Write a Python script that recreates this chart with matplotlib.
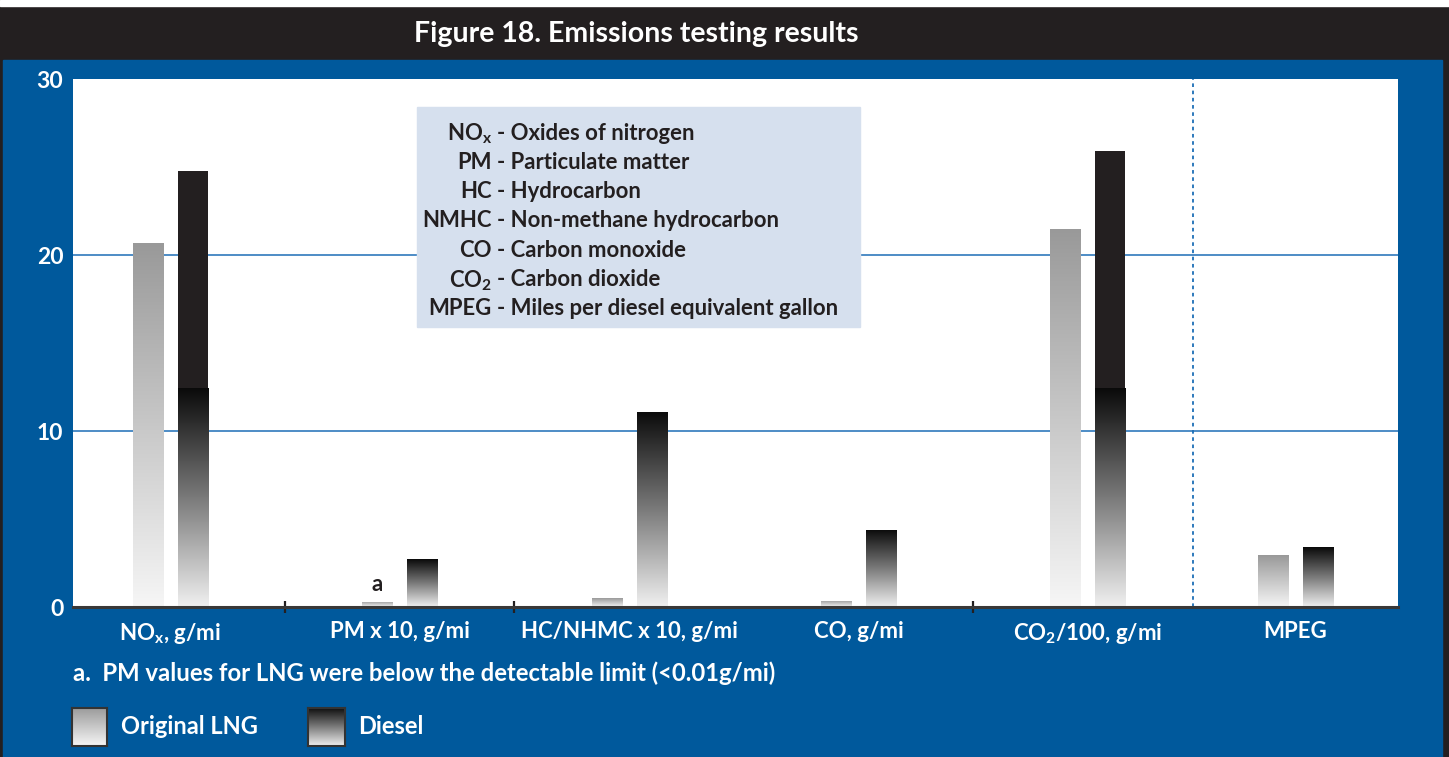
import numpy as np
import matplotlib
matplotlib.use("Agg")
import matplotlib.pyplot as plt
from matplotlib.patches import Rectangle
from matplotlib.colors import LinearSegmentedColormap

# values
categories = ["NO$_\\mathbf{x}$, g/mi", "PM x 10, g/mi", "HC/NHMC x 10, g/mi",
              "CO, g/mi", "CO$_\\mathbf{2}$/100, g/mi", "MPEG"]
lng = [20.7, 0.3, 0.5, 0.35, 21.5, 2.95]
diesel = [24.8, 2.7, 11.1, 4.4, 25.9, 3.4]
yticks = [0, 10, 20, 30]
series_names = ["Original LNG", "Diesel"]
gloss_abbr = ["NO$_\\mathbf{x}$", "PM", "HC", "NMHC", "CO", "CO$_\\mathbf{2}$", "MPEG"]
gloss_desc = ["Oxides of nitrogen", "Particulate matter", "Hydrocarbon",
              "Non-methane hydrocarbon", "Carbon monoxide", "Carbon dioxide",
              "Miles per diesel equivalent gallon"]
title = "Figure 18. Emissions testing results"
footnote = "a.  PM values for LNG were below the detectable limit (<0.01g/mi)"

W, H = 1449, 757
BLUE = "#00599c"
DARK = "#231f20"
GRID = "#1c6eb6"
BOX = "#d6e0ee"

plt.rcParams['font.family'] = ['Lato', 'DejaVu Sans']
plt.rcParams['font.weight'] = 'bold'
plt.rcParams['mathtext.fontset'] = 'custom'
plt.rcParams['mathtext.bf'] = 'Lato:bold'
plt.rcParams['mathtext.rm'] = 'Lato:bold'
plt.rcParams['mathtext.it'] = 'Lato:bold'

lng_cmap = LinearSegmentedColormap.from_list("lng", ["#f6f6f6", "#999999"])
dsl_cmap = LinearSegmentedColormap.from_list("dsl", ["#f0f0f0", "#7a7a7a", "#0a0a0a"])
grad = np.linspace(0, 1, 256).reshape(-1, 1)
split = 12.4  # diesel bars turn solid above this level


def px(x0, y0, x1, y1):
    return [x0 / W, 1 - y1 / H, (x1 - x0) / W, (y1 - y0) / H]


fig = plt.figure(figsize=(W / 100, H / 100), dpi=100, facecolor=DARK)
fig.patches.append(Rectangle((0, 1 - 6 / H), 1, 6 / H, transform=fig.transFigure,
                             color="white", zorder=-5))
fig.patches.append(Rectangle((3 / W, 0), (1442 - 3) / W, 1 - 60 / H,
                             transform=fig.transFigure, color=BLUE, zorder=-5))
fig.text(636 / W, 1 - 34 / H, title, color="white", fontsize=20.5,
         ha="center", va="center")

ax = fig.add_axes(px(73, 79, 1398, 607))
ax.set_facecolor("white")

xmin, xmax, sep = -0.425, 5.353, 4.46
xs = np.array([0, 1, 2, 3, 4, (sep + xmax) / 2])
bw, off = 0.131, 0.098

for yv in yticks[1:-1]:
    ax.axhline(yv, color=GRID, lw=1.1, zorder=1)
ax.axvline(sep, color=GRID, lw=1.3, ls=(0, (2, 2)), zorder=1)

b1 = ax.bar(xs - off, lng, bw, color="#999999", zorder=3)
b2 = ax.bar(xs + off, diesel, bw, color=DARK, zorder=3)
for p in b1.patches:
    x0, h = p.get_x(), p.get_height()
    im = ax.imshow(grad, cmap=lng_cmap, origin="lower", aspect="auto",
                   extent=[x0, x0 + p.get_width(), 0, h], zorder=4)
    im.set_clip_path(p)
for p in b2.patches:
    x0, h = p.get_x(), p.get_height()
    im = ax.imshow(grad, cmap=dsl_cmap, origin="lower", aspect="auto",
                   extent=[x0, x0 + p.get_width(), 0, min(h, split)], zorder=4)
    im.set_clip_path(p)

ax.annotate("a", (xs[1] - off, lng[1]), xytext=(0, 5), textcoords="offset points",
            ha="center", va="bottom", color=DARK, fontsize=16)

ax.set_xlim(xmin, xmax)
ax.set_ylim(0, 30)
ax.set_yticks(yticks)
ax.tick_params(axis="y", length=0, pad=7, labelcolor="white", labelsize=16.5)
ax.set_xticks(xs)
ax.set_xticklabels(categories)
ax.tick_params(axis="x", which="major", length=0, pad=10, labelcolor="white", labelsize=16)
ax.set_xticks([0.5, 1.5, 3.5], minor=True)
ax.tick_params(axis="x", which="minor", direction="inout", length=8, width=1.6, color=DARK)
for s in ["top", "left", "right"]:
    ax.spines[s].set_visible(False)
ax.spines["bottom"].set_color("#383838")
ax.spines["bottom"].set_linewidth(2.2)
ax.spines["bottom"].set_zorder(6)

# glossary box
ax.add_patch(Rectangle((0.2596, 0.530), 0.594 - 0.2596, 0.947 - 0.530,
                       transform=ax.transAxes, color=BOX, zorder=5))
for i, (a, d) in enumerate(zip(gloss_abbr, gloss_desc)):
    y = 1 - (131 + i * 29.3) / H
    fig.text(492 / W, y, a, ha="right", va="center_baseline", fontsize=15.9, color=DARK)
    fig.text(497 / W, y, "- " + d, ha="left", va="center_baseline", fontsize=15.9, color=DARK)

fig.text(73 / W, 1 - 673 / H, footnote, color="white", fontsize=17.2, va="center")

# legend swatches
for (x0, x1, tx), cm, name in zip([(72, 107, 121), (308, 345, 358)],
                                   [lng_cmap, dsl_cmap], series_names):
    sa = fig.add_axes(px(x0, 708, x1, 746))
    sa.imshow(grad, cmap=cm, origin="lower", aspect="auto")
    sa.set_xticks([])
    sa.set_yticks([])
    for s in sa.spines.values():
        s.set_color("#333333")
        s.set_linewidth(1.5)
    fig.text(tx / W, 1 - 727 / H, name, color="white", fontsize=17, va="center")

fig.savefig("out.png", dpi=100, facecolor=fig.get_facecolor())
